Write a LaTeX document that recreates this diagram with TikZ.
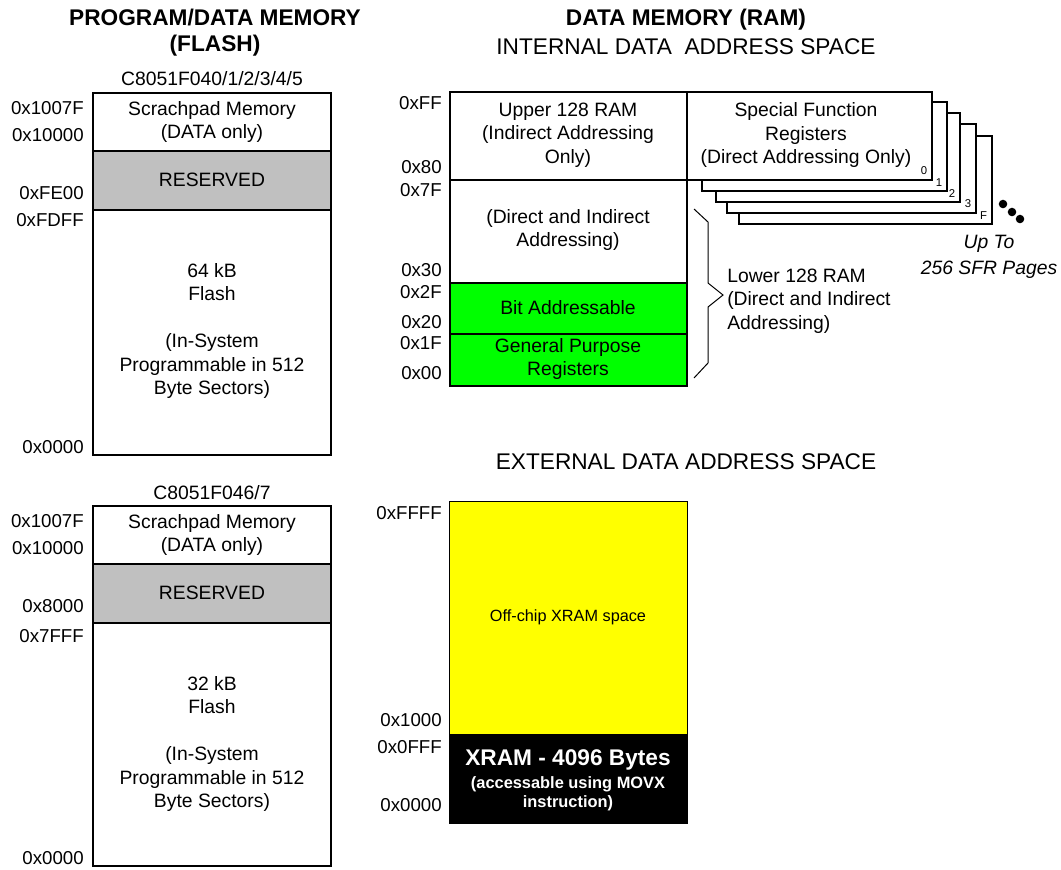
\documentclass[tikz,border=0pt]{standalone}
\usepackage{fontspec}
\setmainfont{Liberation Sans}
\usetikzlibrary{positioning}
\definecolor{resgray}{HTML}{C0C0C0}
\definecolor{ramgreen}{HTML}{00FF00}
\definecolor{xyellow}{HTML}{FFFF00}
\tikzset{
  memline/.style={line width=1.5pt},
  addr/.style={anchor=east,inner sep=0pt,font=\fontsize{14}{17}\selectfont},
  txt/.style={align=center,inner sep=0pt,font=\fontsize{14.5}{17.6}\selectfont},
  head/.style={align=center,inner sep=0pt,font=\fontsize{17}{19.5}\selectfont},
  headb/.style={align=center,inner sep=0pt,font=\bfseries\fontsize{17}{19.5}\selectfont},
  pagelbl/.style={anchor=south east,inner sep=3.5pt,font=\fontsize{8.5}{10}\selectfont},
}
\begin{document}
\begin{tikzpicture}[x=0.75pt,y=-0.75pt,>=stealth]
\useasboundingbox (0,0) rectangle (1061,869);

% program/data memory
\node[headb] (progtitle) at (215,33) {PROGRAM/DATA MEMORY\\(FLASH)};

\node[txt] (partA) at (212,79) {C8051F040/1/2/3/4/5};
\draw[memline,fill=resgray] (93,151) rectangle (331,210);
\draw[memline] (93,93) rectangle (331,455);
\node[txt] (scrA) at (212,122) {Scrachpad Memory\\(DATA only)};
\node[txt] (resA) at (212,180) {RESERVED};
\node[txt] (flashA) at (212,331)
    {64 kB\\Flash\\[17.6pt](In-System\\Programmable in 512\\Byte Sectors)};
\node[addr] (a1) at (84,108) {0x1007F};
\node[addr] (a2) at (84,135) {0x10000};
\node[addr] (a3) at (84,193) {0xFE00};
\node[addr] (a4) at (84,220) {0xFDFF};
\node[addr] (a5) at (84,447) {0x0000};

\node[txt] (partB) at (212,493) {C8051F046/7};
\draw[memline,fill=resgray] (93,564) rectangle (331,623);
\draw[memline] (93,506) rectangle (331,866);
\node[txt] (scrB) at (212,535) {Scrachpad Memory\\(DATA only)};
\node[txt] (resB) at (212,593) {RESERVED};
\node[txt] (flashB) at (212,744)
    {32 kB\\Flash\\[17.6pt](In-System\\Programmable in 512\\Byte Sectors)};
\node[addr] (b1) at (84,521) {0x1007F};
\node[addr] (b2) at (84,548) {0x10000};
\node[addr] (b3) at (84,606) {0x8000};
\node[addr] (b4) at (84,636) {0x7FFF};
\node[addr] (b5) at (84,858) {0x0000};

% internal data address space
\node[headb] (ramtitle) at (686,20) {DATA MEMORY (RAM)};
\node[head] (inttitle) at (686,47) {INTERNAL DATA\ \ ADDRESS SPACE};

\foreach \l/\r/\t/\b/\pg in {739/992/136/224/F,727/976/124/213/3,
    716/960/113/202/2,702/947/102/191/1}{
  \draw[memline,fill=white] (\l,\t) rectangle (\r,\b);
  \node[pagelbl] (pg\pg) at (\r,\b) {\pg};
}
\draw[memline,fill=white] (687,92) rectangle (932,180);
\node[pagelbl] (pg0) at (932,180) {0};
\node[txt] (sfr) at (806,135)
    {Special Function\\Registers\\(Direct Addressing Only)};

\draw[memline,fill=ramgreen] (450,283) rectangle (687,386);
\draw[memline] (450,334) -- (687,334);
\draw[memline] (450,92) rectangle (687,386);
\draw[memline] (450,180) -- (687,180);
\node[txt] (upper) at (568,135) {Upper 128 RAM\\(Indirect Addressing\\Only)};
\node[txt] (direct) at (568,230) {(Direct and Indirect\\Addressing)};
\node[txt] (bitaddr) at (568,308) {Bit Addressable};
\node[txt] (gpr) at (568,359) {General Purpose\\Registers};

\node[addr] (r1) at (442,103) {0xFF};
\node[addr] (r2) at (442,167) {0x80};
\node[addr] (r3) at (442,190) {0x7F};
\node[addr] (r4) at (442,270) {0x30};
\node[addr] (r5) at (442,292) {0x2F};
\node[addr] (r6) at (442,322) {0x20};
\node[addr] (r7) at (442,343) {0x1F};
\node[addr] (r8) at (442,373) {0x00};

% lower 128 brace
\draw[line width=0.75pt] (694,209) -- (708,222) -- (708,283) -- (723,295)
    -- (708,307) -- (708,363) -- (694,378);
\node[txt,anchor=west,align=left] (lower) at (727,301)
    {Lower 128 RAM\\(Direct and Indirect\\Addressing)};

\fill (1003,204) circle (3.2pt);
\fill (1012,212) circle (3.2pt);
\fill (1020,219) circle (3.2pt);
\node[txt,font=\itshape\fontsize{14.5}{20}\selectfont] (pages) at (989,257)
    {Up To\\256 SFR Pages};

% external data address space
\node[head] (exttitle) at (686,462) {EXTERNAL DATA ADDRESS SPACE};
\fill[xyellow] (449,501) rectangle (687,734);
\fill[black] (449,734) rectangle (687,823);
\draw[line width=0.75pt] (449,501) rectangle (687,823);
\node[inner sep=0pt,font=\fontsize{12.2}{15}\selectfont] (offchip) at (568,617)
    {Off-chip XRAM space};
\node[white,inner sep=0pt,font=\bfseries\fontsize{17}{20}\selectfont] (xram)
    at (568,760) {XRAM - 4096 Bytes};
\node[white,align=center,inner sep=0pt,font=\bfseries\fontsize{12.3}{14.5}\selectfont]
    (movx) at (568,794) {(accessable using MOVX\\instruction)};

\node[addr] (x1) at (442,513) {0xFFFF};
\node[addr] (x2) at (442,720) {0x1000};
\node[addr] (x3) at (442,747) {0x0FFF};
\node[addr] (x4) at (442,805) {0x0000};
\end{tikzpicture}
\end{document}
